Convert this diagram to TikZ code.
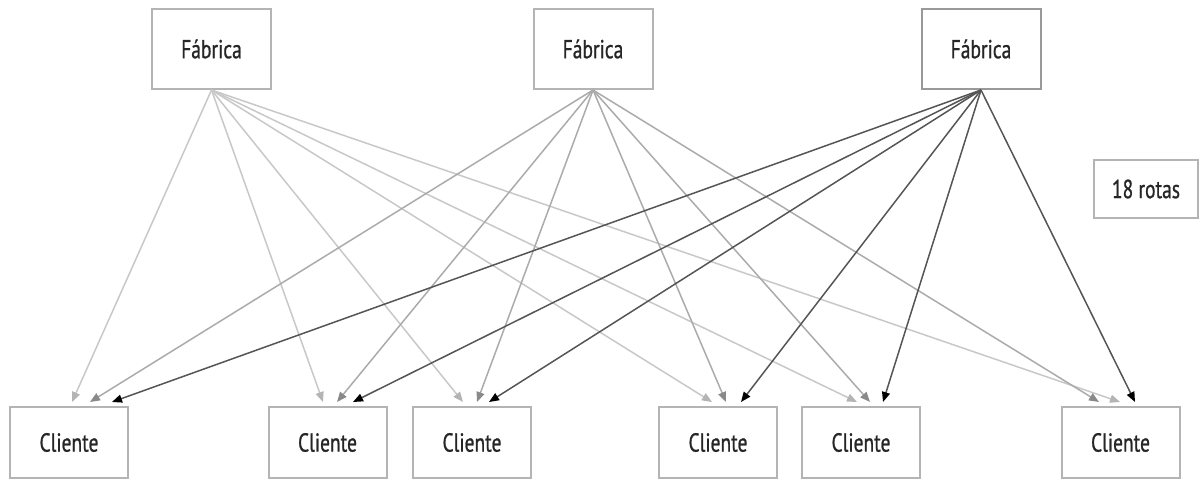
\documentclass[tikz,border=0pt]{standalone}
\usepackage{fontspec}
\setmainfont{PT Sans}[FakeStretch=0.75,FakeBold=0.8]
\usetikzlibrary{arrows.meta}
\definecolor{boxc}{HTML}{B4B4B4}
\definecolor{la}{HTML}{C8C8C8}
\definecolor{lb}{HTML}{ABABAB}
\definecolor{lc}{HTML}{555555}
\begin{document}
\begin{tikzpicture}[x=1pt,y=-1pt,
  box/.style={draw=boxc,line width=2pt,fill=white,inner sep=0pt,text=black!85,font=\fontsize{26}{30}\selectfont},
  fab/.style={box,minimum width=119pt,minimum height=80pt},
  cli/.style={box,minimum width=118pt,minimum height=71pt},
  fa/.style={draw=la,line width=1.5pt,-{Triangle[length=10pt,width=8pt,color=la!90!black]}},
  fb/.style={draw=lb,line width=1.5pt,-{Triangle[length=10pt,width=8pt,color=lb!80!black]}},
  fc/.style={draw=lc,line width=1.5pt,-{Triangle[length=10pt,width=8pt,color=black]}}]
\useasboundingbox (0,0) rectangle (1200,480);
\node[fab] (f1) at (211.5,49) {Fábrica};
\node[fab] (f2) at (593,49) {Fábrica};
\node[fab,draw=boxc!85!black] (f3) at (981,49) {Fábrica};
\node[box,minimum width=104pt,minimum height=58pt] (r) at (1146,189) {18 rotas};
\node[cli] (c1) at (69,442.5) {Cliente};
\node[cli] (c2) at (327.5,442.5) {Cliente};
\node[cli] (c3) at (472,442.5) {Cliente};
\node[cli] (c4) at (718,442.5) {Cliente};
\node[cli] (c5) at (861,442.5) {Cliente};
\node[cli] (c6) at (1120.5,442.5) {Cliente};
% factory 1
\draw[fa] (f1.south) -- ([xshift=3pt,yshift=4pt]c1.north);
\draw[fa] (f1.south) -- ([xshift=-4.5pt,yshift=4pt]c2.north);
\draw[fa] (f1.south) -- ([xshift=-9pt,yshift=4pt]c3.north);
\draw[fa] (f1.south) -- ([xshift=-6pt,yshift=4pt]c4.north);
\draw[fa] (f1.south) -- ([xshift=-4pt,yshift=4pt]c5.north);
\draw[fa] (f1.south) -- ([xshift=-0.5pt,yshift=4pt]c6.north);
% factory 2
\draw[fb] (f2.south) -- ([xshift=21pt,yshift=4pt]c1.north);
\draw[fb] (f2.south) -- ([xshift=9.5pt,yshift=4pt]c2.north);
\draw[fb] (f2.south) -- ([xshift=5pt,yshift=4pt]c3.north);
\draw[fb] (f2.south) -- ([xshift=8pt,yshift=4pt]c4.north);
\draw[fb] (f2.south) -- ([xshift=9pt,yshift=4pt]c5.north);
\draw[fb] (f2.south) -- ([xshift=-21.5pt,yshift=4pt]c6.north);
% factory 3
\draw[fc] (f3.south) -- ([xshift=43pt,yshift=4pt]c1.north);
\draw[fc] (f3.south) -- ([xshift=25.5pt,yshift=4pt]c2.north);
\draw[fc] (f3.south) -- ([xshift=17pt,yshift=4pt]c3.north);
\draw[fc] (f3.south) -- ([xshift=23pt,yshift=4pt]c4.north);
\draw[fc] (f3.south) -- ([xshift=22pt,yshift=4pt]c5.north);
\draw[fc] (f3.south) -- ([xshift=14.5pt,yshift=4pt]c6.north);
\end{tikzpicture}
\end{document}
